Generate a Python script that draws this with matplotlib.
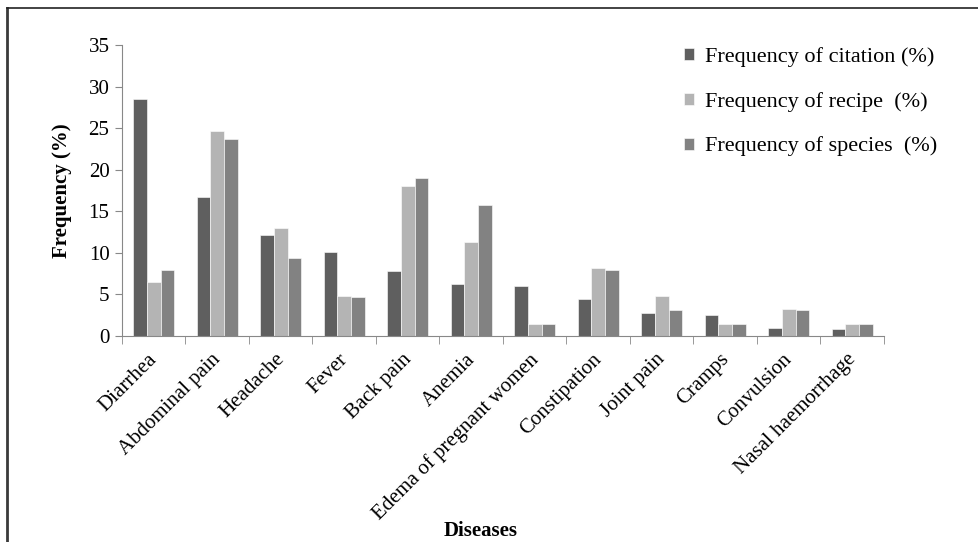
import numpy as np
import matplotlib
matplotlib.use("Agg")
import matplotlib.pyplot as plt
import matplotlib.transforms as mtrans
from matplotlib.lines import Line2D

plt.rcParams['font.family'] = ['Liberation Serif', 'DejaVu Serif']

diseases = ['Diarrhea', 'Abdominal pain', 'Headache', 'Fever', 'Back pain', 'Anemia',
            'Edema of pregnant women', 'Constipation', 'Joint pain', 'Cramps',
            'Convulsion', 'Nasal haemorrhage']
citation = [28.5, 16.7, 12.1, 10.1, 7.8, 6.2, 6.0, 4.5, 2.8, 2.5, 1.0, 0.8]
recipe = [6.5, 24.6, 13.0, 4.8, 18.0, 11.3, 1.5, 8.2, 4.8, 1.5, 3.2, 1.5]
species = [7.9, 23.7, 9.4, 4.7, 19.0, 15.8, 1.5, 7.9, 3.1, 1.5, 3.1, 1.5]

labels = ['Frequency of citation (%)', 'Frequency of recipe  (%)', 'Frequency of species  (%)']
colors = ['#5f5f5f', '#b4b4b4', '#828282']

W, H = 979, 542
fig = plt.figure(figsize=(W / 100, H / 100), dpi=100)
ax = fig.add_axes([122 / W, 1 - 336 / H, 762 / W, 291 / H])

x = np.arange(len(diseases))
w = 0.215
for i, (vals, lab, col) in enumerate(zip([citation, recipe, species], labels, colors)):
    ax.bar(x + (i - 1) * w, vals, w, color=col, label=lab, edgecolor='white', linewidth=0.4)

ax.set_xlim(-0.5, len(diseases) - 0.5)
ax.set_ylim(0, 35)
ax.set_yticks(range(0, 36, 5))
ax.set_xticks(x)
ax.set_xticklabels(diseases, rotation=45, ha='right', rotation_mode='anchor', fontsize=15)
ax.set_xticks(np.arange(-0.5, len(diseases), 1), minor=True)
ax.tick_params(axis='x', which='major', length=0, pad=10)
ax.tick_params(axis='x', which='minor', length=6, color='#888888', direction='out')
ax.tick_params(axis='y', length=5, color='#888888', labelsize=15, pad=4)

# nudge the rotated labels a little to the left
shift = mtrans.ScaledTranslation(-6 / 100, 0, fig.dpi_scale_trans)
for t in ax.get_xticklabels():
    t.set_transform(t.get_transform() + shift)

for s in ['top', 'right']:
    ax.spines[s].set_visible(False)
for s in ['left', 'bottom']:
    ax.spines[s].set_color('#888888')

ax.set_ylabel('Frequency (%)', fontsize=15, fontweight='bold', labelpad=12)
fig.text(481 / W, 1 - 531 / H, 'Diseases', ha='center', va='center', fontsize=15, fontweight='bold')

leg = ax.legend(loc='upper left', bbox_to_anchor=(684 / W, 1 - 47 / H), bbox_transform=fig.transFigure,
                frameon=False, fontsize=16, borderpad=0, borderaxespad=0,
                handlelength=0.45, handleheight=0.45, handletextpad=0.5, labelspacing=1.12)

# partial outer frame (top and left edges only)
fig.lines.append(Line2D([7 / W, 7 / W], [0, 1 - 8 / H], transform=fig.transFigure,
                        color='#3a3a3a', linewidth=2))
fig.lines.append(Line2D([7 / W, 1], [1 - 8 / H, 1 - 8 / H], transform=fig.transFigure,
                        color='#222222', linewidth=1.2))

fig.savefig('out.png', dpi=100)
